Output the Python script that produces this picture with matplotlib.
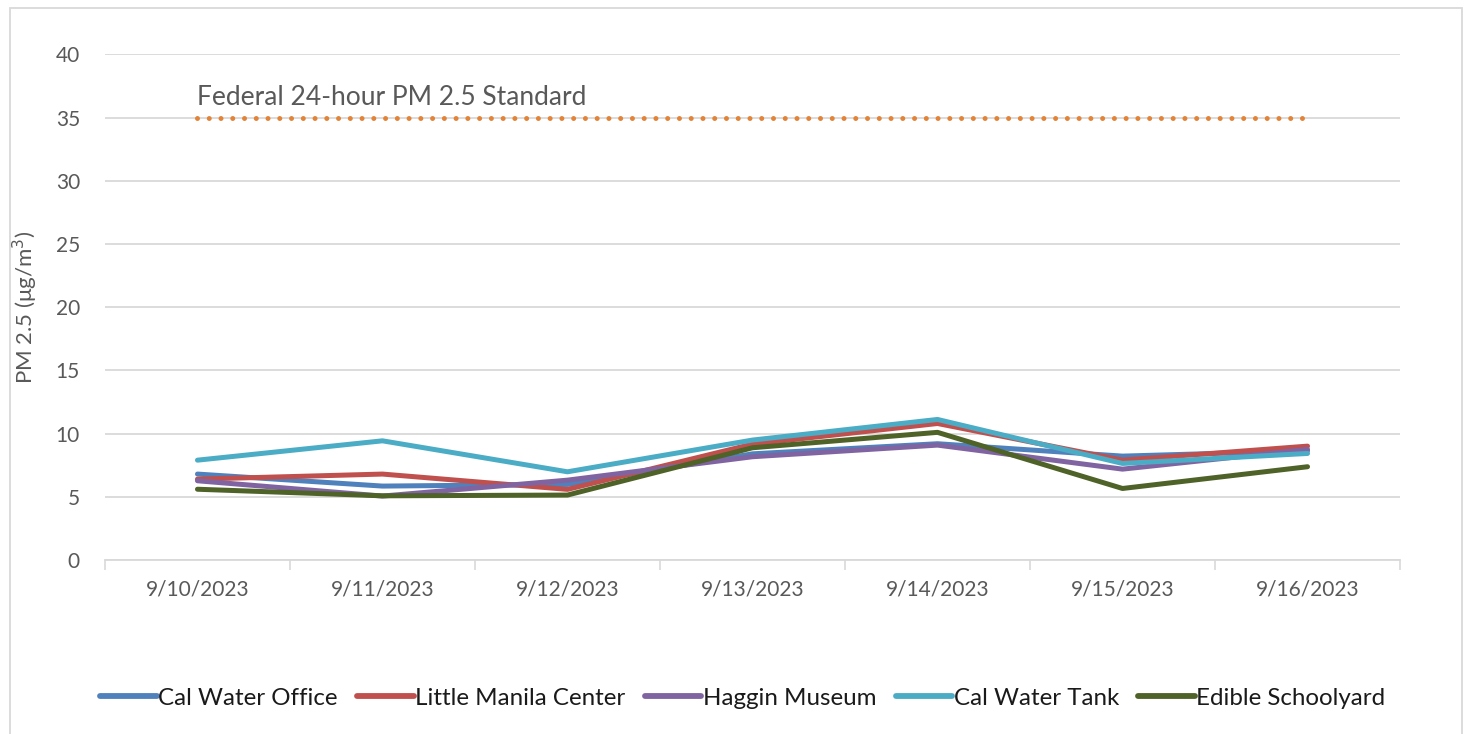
import matplotlib.pyplot as plt
from matplotlib.patches import Rectangle

plt.rcParams["font.family"] = ["Lato", "DejaVu Sans"]

DATES = ["9/10/2023", "9/11/2023", "9/12/2023", "9/13/2023",
         "9/14/2023", "9/15/2023", "9/16/2023"]
CAL_WATER_OFFICE = [6.8, 5.85, 5.98, 8.4, 9.2, 8.22, 8.64]
LITTLE_MANILA = [6.4, 6.8, 5.59, 9.17, 10.8, 7.9, 9.01]
HAGGIN_MUSEUM = [6.27, 5.06, 6.32, 8.17, 9.09, 7.19, 8.75]
CAL_WATER_TANK = [7.9, 9.43, 6.98, 9.49, 11.12, 7.64, 8.43]
EDIBLE_SCHOOLYARD = [5.6, 5.08, 5.14, 8.88, 10.1, 5.66, 7.38]
STANDARD = [35, 35, 35, 35, 35, 35, 35]

SERIES = [
    ("Cal Water Office", CAL_WATER_OFFICE, "#4F81BD"),
    ("Little Manila Center", LITTLE_MANILA, "#C0504D"),
    ("Haggin Museum", HAGGIN_MUSEUM, "#8064A2"),
    ("Cal Water Tank", CAL_WATER_TANK, "#4BACC6"),
    ("Edible Schoolyard", EDIBLE_SCHOOLYARD, "#4F6228"),
]

GRID = "#D9D9D9"
TEXT = "#595959"

fig = plt.figure(figsize=(14.68, 7.34), dpi=100)
ax = fig.add_axes([0.0715, 0.237, 0.8822, 0.689])

x = range(len(DATES))
for name, vals, color in SERIES:
    ax.plot(x, vals, color=color, lw=3.6, label=name,
            solid_capstyle="round", solid_joinstyle="round")

ax.plot(x, STANDARD, color="#E38337", lw=3.6, linestyle=(0, (0.001, 2.35)),
        dash_capstyle="round")
ax.text(0, 36.6, "Federal 24-hour PM 2.5 Standard", fontsize=19,
        color=TEXT, ha="left", va="center")

ax.set_xlim(-0.5, len(DATES) - 0.5)
ax.set_ylim(0, 40)
ax.set_yticks(range(0, 41, 5))
ax.set_xticks(list(x))
ax.set_xticklabels(DATES)
ax.set_xticks([i - 0.5 for i in range(len(DATES) + 1)], minor=True)
ax.tick_params(axis="x", which="major", length=0, pad=14, labelsize=15, colors=TEXT)
ax.tick_params(axis="x", which="minor", length=7, color=GRID, width=1.2)
ax.tick_params(axis="y", length=0, pad=18, labelsize=15, colors=TEXT)

ax.grid(axis="y", color=GRID, lw=1.3)
ax.set_axisbelow(True)
for side in ["top", "right", "left"]:
    ax.spines[side].set_visible(False)
ax.spines["bottom"].set_color(GRID)
ax.spines["bottom"].set_linewidth(1.3)

ax.set_ylabel("PM 2.5 (μg/m$^3$)", fontsize=16, color=TEXT, labelpad=11)

leg = fig.legend(loc="center", bbox_to_anchor=(0.506, 0.049), ncol=5,
                 frameon=False, fontsize=17.4, handlelength=2.35,
                 handletextpad=0.05, columnspacing=0.8)
for line in leg.get_lines():
    line.set_linewidth(4.2)
    line.set_solid_capstyle("round")
for t in leg.get_texts():
    t.set_color("#1a1a1a")

fig.patches.append(Rectangle((10 / 1468, -0.01), 1452 / 1468, 1 - 8 / 734 + 0.01,
                             transform=fig.transFigure, fill=False,
                             edgecolor="#D9D9D9", lw=1.3))

fig.savefig("out.png", dpi=100)
